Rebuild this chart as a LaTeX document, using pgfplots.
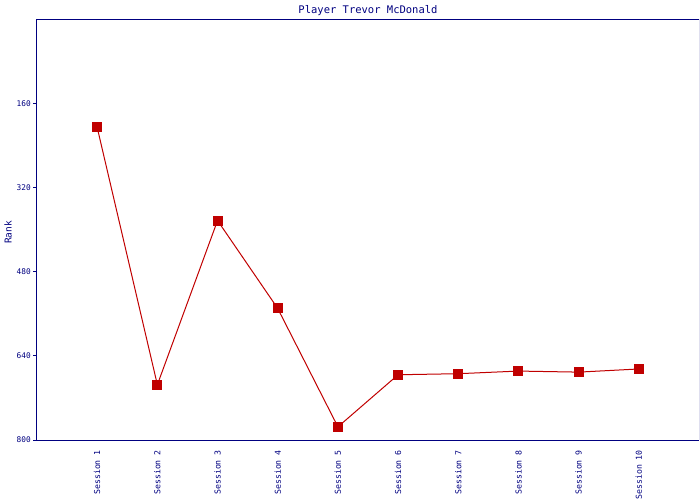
\documentclass[border=0pt]{standalone}
\usepackage{pgfplots}
\pgfplotsset{compat=1.18}
\usepackage{fontspec}
\setmainfont{DejaVu Sans Mono}
\setmonofont{DejaVu Sans Mono}
\definecolor{navy}{RGB}{0,0,128}
\definecolor{darkred}{RGB}{192,0,0}
\begin{document}
\begin{tikzpicture}[x=1pt,y=1pt]
\begin{axis}[
  scale only axis,
  width=662pt, height=421pt,
  xmin=0, xmax=11,
  ymin=0, ymax=800,
  y dir=reverse,
  axis line style={navy, line width=1pt},
  xtick={1,...,10},
  xticklabels={Session 1,Session 2,Session 3,Session 4,Session 5,Session 6,Session 7,Session 8,Session 9,Session 10},
  xtick style={draw=none},
  x tick label style={rotate=90, anchor=east, font=\fontsize{8.2}{9}\selectfont, text=navy, inner sep=0pt},
  xticklabel shift=6pt,
  ytick={160,320,480,640,800},
  ytick style={navy, line width=1pt},
  tick align=outside,
  major tick length=4pt,
  y tick label style={font=\fontsize{7.8}{8}\selectfont, text=navy, inner sep=1pt},
  yticklabel shift=1pt,
  /pgf/number format/assume math mode=true,
  /pgf/number format/set thousands separator={},
  ylabel={Rank},
  ylabel style={font=\fontsize{9.5}{10}\selectfont, text=navy, at={(axis description cs:0,0.5)}, anchor=center, yshift=29pt, xshift=-3pt},
  title={Player Trevor McDonald},
  title style={font=\fontsize{10.5}{12}\selectfont, text=navy, at={(axis description cs:0.5,1)}, anchor=base, yshift=-0.5pt, inner sep=0pt},
  axis x line*=bottom,
  axis y line*=left,
]
\draw[navy, line width=1pt] (rel axis cs:0,1) -- (rel axis cs:1,1) -- (rel axis cs:1,0);
\addplot[darkred, line width=1pt, mark=square*, mark size=4.5pt, mark options={fill=darkred, draw=darkred, line width=0pt}]
coordinates {(1,206) (2,695) (3,383) (4,550) (5,775) (6,676) (7,674) (8,669) (9,671) (10,665)};
\end{axis}
\pgfresetboundingbox
\useasboundingbox (-37,-60) rectangle (663,440);
\end{tikzpicture}
\end{document}
